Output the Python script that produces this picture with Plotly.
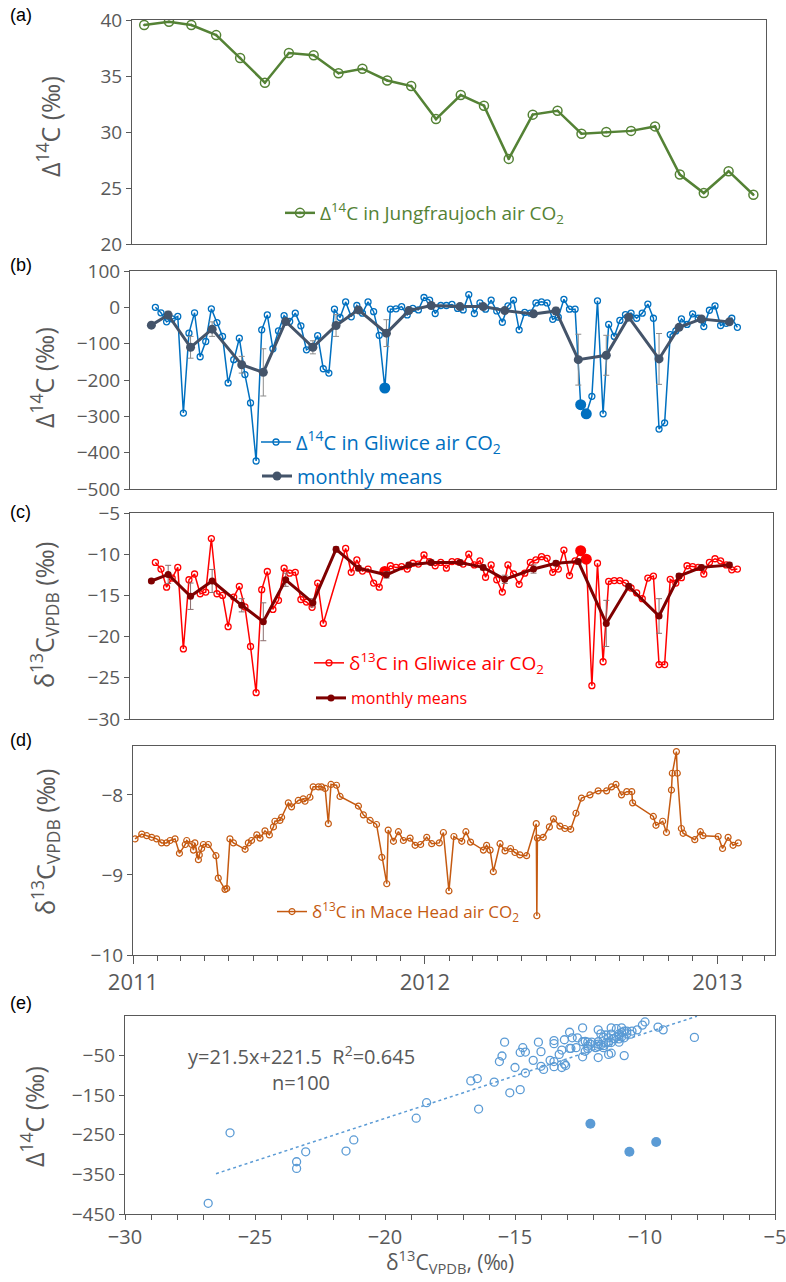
import plotly.graph_objects as go
import pandas as pd

W, H = 786, 1282
GRAY = "#595959"
FONT = "Open Sans"
GREEN = "#548235"
BLUE = "#0070C0"
NAVY = "#44546A"
RED = "#FF0000"
DARKRED = "#7F0000"
BROWN = "#C55A11"
LBLUE = "#5B9BD5"

# ---------------- (a) Jungfraujoch monthly D14C ----------------
jfj_dates = ["2011-01-15", "2011-02-15", "2011-03-15", "2011-04-15", "2011-05-15", "2011-06-15",
             "2011-07-15", "2011-08-15", "2011-09-15", "2011-10-15", "2011-11-15", "2011-12-15",
             "2012-01-15", "2012-02-15", "2012-03-15", "2012-04-15", "2012-05-15", "2012-06-15",
             "2012-07-15", "2012-08-15", "2012-09-15", "2012-10-15", "2012-11-15", "2012-12-15",
             "2013-01-15", "2013-02-15"]
jfj_d14c = [39.55, 39.85, 39.55, 38.65, 36.6, 34.4, 37.05, 36.85, 35.25, 35.65, 34.6, 34.1,
            31.15, 33.3, 32.35, 27.6, 31.55, 31.9, 29.85, 30.0, 30.1, 30.5, 26.2, 24.55, 26.5, 24.4]

# ---------------- (b),(c) Gliwice weekly samples ----------------
gl_dates = [
    "2011-01-29", "2011-02-05", "2011-02-12", "2011-02-19", "2011-02-26", "2011-03-05", "2011-03-12",
    "2011-03-19", "2011-03-26", "2011-04-02", "2011-04-09", "2011-04-16", "2011-04-23", "2011-04-30",
    "2011-05-07", "2011-05-14", "2011-05-21", "2011-05-28", "2011-06-04", "2011-06-11", "2011-06-18",
    "2011-06-25", "2011-07-02", "2011-07-09", "2011-07-16", "2011-07-23", "2011-07-30", "2011-08-06",
    "2011-08-13", "2011-08-20", "2011-08-27", "2011-09-03", "2011-09-10", "2011-09-17", "2011-09-24",
    "2011-10-01", "2011-10-08", "2011-10-15", "2011-10-22", "2011-10-29", "2011-11-05", "2011-11-12",
    "2011-11-19", "2011-11-26", "2011-12-03", "2011-12-10", "2011-12-17", "2011-12-24", "2011-12-31",
    "2012-01-07", "2012-01-14", "2012-01-21", "2012-01-28", "2012-02-04", "2012-02-11", "2012-02-18",
    "2012-02-25", "2012-03-03", "2012-03-10", "2012-03-17", "2012-03-24", "2012-03-31", "2012-04-07",
    "2012-04-14", "2012-04-21", "2012-04-28", "2012-05-05", "2012-05-12", "2012-05-19", "2012-05-26",
    "2012-06-02", "2012-06-09", "2012-06-16", "2012-06-23", "2012-06-30", "2012-07-07", "2012-07-14",
    "2012-07-21", "2012-07-28", "2012-08-04", "2012-08-11", "2012-08-18", "2012-08-25", "2012-09-01",
    "2012-09-08", "2012-09-15", "2012-09-22", "2012-09-29", "2012-10-06", "2012-10-13", "2012-10-20",
    "2012-10-27", "2012-11-03", "2012-11-10", "2012-11-17", "2012-11-24", "2012-12-01", "2012-12-08",
    "2012-12-15", "2012-12-22", "2012-12-29", "2013-01-05", "2013-01-12", "2013-01-19", "2013-01-26"]
gl_d14c = [
    0, -15, -40, -32, -25, -291, -71, -15, -136, -94,
    -4, -42, -80, -208, -144, -85, -185, -263, -423, -62,
    -21, -114, -65, -23, -39, -16, -51, -117, -108, -78,
    -169, -181, -5, -28, 15, -26, 5, -16, 15, -12,
    -77, -222, -5, -4, 2, -21, -3, -7, 27, 20,
    -17, 5, 5, 8, -3, -7, 35, -17, 12, -5,
    20, -10, -41, 4, 20, -62, -14, -16, 12, 15,
    12, -33, -27, 22, -5, -5, -268, -293, -245, 18,
    -293, -47, -80, -36, -20, -16, -30, -16, 9, -30,
    -335, -318, -75, -65, -32, -47, -18, -30, -53, -8,
    4, -50, -44, -30, -55]
gl_d13c = [
    -11.0, -11.8, -14.0, -12.9, -11.6, -21.5, -13.1, -12.4, -14.8, -14.6,
    -8.1, -14.8, -15.0, -18.8, -15.2, -13.9, -16.4, -21.2, -26.8, -14.3,
    -12.1, -16.7, -15.6, -11.7, -12.3, -12.2, -15.5, -15.8, -16.45, -13.5,
    -18.4, None, None, None, -9.3, -12.2, -10.7, -12.05, -11.8, -13.5,
    -14.0, -12.1, -11.4, -11.6, -11.5, -11.8, -11.1, -11.2, -10.1, -10.9,
    -11.4, -11.0, -11.7, -10.9, -10.9, -11.2, -10.0, -11.3, -10.8, -12.8,
    -11.3, -13.1, -14.6, -11.3, -12.4, -13.65, -12.3, -11.0, -10.7, -10.3,
    -10.5, -12.2, -11.8, -9.5, -12.6, -10.8, -9.57, -10.6, -25.96, -11.1,
    -23.05, -13.3, -13.2, -13.2, -13.5, -14.1, -14.7, -15.4, -12.9, -12.65,
    -23.4, -23.4, -13.05, -13.5, -12.85, -11.4, -11.5, -11.6, -12.4, -11.0,
    -10.55, -10.8, -11.3, -11.9, -11.8]
highlight_idx = [41, 76, 77]   # samples drawn as filled dots

# monthly means
mm_dates = ["2011-01-24", "2011-02-14", "2011-03-14", "2011-04-10", "2011-05-17", "2011-06-13",
            "2011-07-11", "2011-08-14", "2011-09-12", "2011-10-10", "2011-11-14", "2011-12-12",
            "2012-01-09", "2012-02-14", "2012-03-14", "2012-04-10", "2012-05-16", "2012-06-13",
            "2012-07-11", "2012-08-15", "2012-09-12", "2012-10-20", "2012-11-14", "2012-12-12",
            "2013-01-16"]
mm_d14c = [-49, -21, -110, -60, -158, -179, -39, -110, -50, -7, -71, -9, 5, 2, 2, -9, -18, -10,
           -144, -132, -27, -142, -55, -32, -40]
mm_d14c_err = [5, 10, 30, 20, 23, 65, 5, 18, 30, 5, 37, 5, 5, 5, 5, 5, 5, 10, 70, 55, 5, 70, 5, 5, 5]
mm_d13c = [-13.25, -12.45, -15.1, -13.25, -16.2, -18.2, -13.1, -15.9, -9.4, -11.7, -12.5, -11.3,
           -11.0, -11.0, -11.6, -13.05, -11.8, -11.1, -10.9, -18.4, -13.9, -17.5, -12.65, -11.6, -11.3]
mm_d13c_err = [0.2, 1.1, 1.6, 1.4, 0.8, 2.3, 0.8, 0.5, 0.3, 0.3, 0.4, 0.3, 0.3, 0.3, 0.3, 0.5,
               0.5, 0.3, 0.3, 2.8, 0.3, 2.1, 0.3, 0.3, 0.3]

# ---------------- (d) Mace Head d13C (time in decimal years) ----------------
mh_year = [2011.007, 2011.030, 2011.047, 2011.064, 2011.081, 2011.098, 2011.115, 2011.127, 2011.144,
           2011.159, 2011.179, 2011.184, 2011.201, 2011.207, 2011.212, 2011.224, 2011.227, 2011.235,
           2011.241, 2011.258, 2011.284, 2011.292, 2011.315, 2011.321, 2011.332, 2011.344, 2011.384,
           2011.395, 2011.406, 2011.424, 2011.435, 2011.452, 2011.467, 2011.481, 2011.486, 2011.503,
           2011.509, 2011.532, 2011.543, 2011.566, 2011.583, 2011.589, 2011.606, 2011.617, 2011.635,
           2011.646, 2011.658, 2011.669, 2011.678, 2011.697, 2011.709, 2011.772, 2011.789, 2011.812,
           2011.834, 2011.852, 2011.869, 2011.874, 2011.892, 2011.909, 2011.926, 2011.949, 2011.966,
           2011.985, 2012.006, 2012.023, 2012.049, 2012.063, 2012.082, 2012.099, 2012.126, 2012.140,
           2012.156, 2012.200, 2012.211, 2012.223, 2012.234, 2012.257, 2012.274, 2012.293, 2012.308,
           2012.325, 2012.348, 2012.381, 2012.383, 2012.385, 2012.405, 2012.426, 2012.440, 2012.462,
           2012.479, 2012.499, 2012.517, 2012.536, 2012.565, 2012.593, 2012.622, 2012.639, 2012.654,
           2012.673, 2012.691, 2012.708, 2012.711, 2012.782, 2012.791, 2012.814, 2012.827, 2012.844,
           2012.847, 2012.861, 2012.864, 2012.878, 2012.884, 2012.924, 2012.943, 2012.952, 2013.004,
           2013.019, 2013.038, 2013.055, 2013.073]
mh_d13c = [-8.55, -8.49, -8.51, -8.53, -8.55, -8.60, -8.60, -8.57, -8.55, -8.73, -8.62, -8.57,
           -8.62, -8.69, -8.60, -8.81, -8.75, -8.67, -8.62, -8.62, -8.76, -9.04, -9.18, -9.17,
           -8.55, -8.60, -8.68, -8.60, -8.57, -8.50, -8.54, -8.45, -8.50, -8.40, -8.33, -8.32,
           -8.28, -8.10, -8.15, -8.07, -8.05, -8.08, -8.03, -7.90, -7.90, -7.90, -7.92, -8.36,
           -7.87, -7.88, -8.02, -8.14, -8.25, -8.32, -8.37, -8.78, -9.11, -8.44, -8.58, -8.46,
           -8.57, -8.54, -8.63, -8.62, -8.53, -8.61, -8.60, -8.47, -9.20, -8.52, -8.58, -8.46,
           -8.59, -8.69, -8.63, -8.69, -8.96, -8.61, -8.70, -8.67, -8.72, -8.75, -8.76, -8.36,
           -9.51, -8.54, -8.53, -8.40, -8.30, -8.39, -8.42, -8.43, -8.23, -8.04, -8.00, -7.95,
           -7.95, -7.90, -7.87, -8.00, -7.96, -7.96, -8.10, -8.27, -8.38, -8.33, -8.47, -7.94,
           -7.73, -7.46, -7.73, -8.42, -8.48, -8.56, -8.46, -8.51, -8.52, -8.67, -8.53, -8.63, -8.60]

# ---------------- (e) regression ----------------
fit_slope, fit_intercept = 21.5, 221.5
fit_x = [-26.5, -8.0]
fit_text = "y=21.5x+221.5  R<sup>2</sup>=0.645"
n_text = "n=100"

# ---------------- helpers ----------------
T0 = pd.Timestamp("2011-01-01")
DPX = 365.25 / 292.0  # days per pixel on the time axes


def xdom(l, r):
    return [l / W, r / W]


def ydom(t, b):
    return [1 - b / H, 1 - t / H]


def trange(l, r):
    a = T0 + pd.Timedelta(days=(l - 133) * DPX)
    b = T0 + pd.Timedelta(days=(r - 133) * DPX)
    return [a.strftime("%Y-%m-%d %H:%M"), b.strftime("%Y-%m-%d %H:%M")]


def dec_to_date(y):
    return (T0 + pd.Timedelta(days=(y - 2011) * 365.25)).strftime("%Y-%m-%d %H:%M")


mh_dates = [dec_to_date(v) for v in mh_year]

fig = go.Figure()

# (a)
fig.add_trace(go.Scatter(x=jfj_dates, y=jfj_d14c, mode="lines+markers", xaxis="x", yaxis="y",
                         line=dict(color=GREEN, width=2.5),
                         marker=dict(symbol="circle-open-dot", size=9, color=GREEN, line=dict(width=1.5)),
                         name="Δ<sup>14</sup>C in Jungfraujoch air CO<sub>2</sub>", legend="legend"))

# (b)
fig.add_trace(go.Scatter(x=gl_dates, y=gl_d14c, mode="lines+markers", xaxis="x2", yaxis="y2",
                         line=dict(color=BLUE, width=1.5),
                         marker=dict(symbol="circle-open", size=6, color=BLUE, line=dict(width=1.3)),
                         name="Δ<sup>14</sup>C in Gliwice air CO<sub>2</sub>", legend="legend2"))
fig.add_trace(go.Scatter(x=[gl_dates[i] for i in highlight_idx], y=[gl_d14c[i] for i in highlight_idx],
                         mode="markers", xaxis="x2", yaxis="y2", showlegend=False,
                         marker=dict(symbol="circle", size=11, color=BLUE)))
fig.add_trace(go.Scatter(x=mm_dates, y=mm_d14c, mode="lines+markers", xaxis="x2", yaxis="y2",
                         line=dict(color=NAVY, width=3), marker=dict(symbol="circle", size=9, color=NAVY),
                         error_y=dict(type="data", array=mm_d14c_err, color="#8C8C8C", thickness=1, width=3),
                         name="monthly means", legend="legend3"))

# (c)
fig.add_trace(go.Scatter(x=gl_dates, y=gl_d13c, mode="lines+markers", xaxis="x3", yaxis="y3",
                         connectgaps=True, line=dict(color=RED, width=1.5),
                         marker=dict(symbol="circle-open", size=6, color=RED, line=dict(width=1.3)),
                         name="δ<sup>13</sup>C in Gliwice air CO<sub>2</sub>", legend="legend4"))
fig.add_trace(go.Scatter(x=[gl_dates[i] for i in highlight_idx], y=[gl_d13c[i] for i in highlight_idx],
                         mode="markers", xaxis="x3", yaxis="y3", showlegend=False,
                         marker=dict(symbol="circle", size=11, color=RED)))
fig.add_trace(go.Scatter(x=mm_dates, y=mm_d13c, mode="lines+markers", xaxis="x3", yaxis="y3",
                         line=dict(color=DARKRED, width=3), marker=dict(symbol="circle", size=7, color=DARKRED),
                         error_y=dict(type="data", array=mm_d13c_err, color="#8C6E6E", thickness=1, width=3),
                         name="monthly means", legend="legend5"))

# (d)
fig.add_trace(go.Scatter(x=mh_dates, y=mh_d13c, mode="lines+markers", xaxis="x4", yaxis="y4",
                         line=dict(color=BROWN, width=1.5),
                         marker=dict(symbol="circle-open", size=6, color=BROWN, line=dict(width=1.2)),
                         name="δ<sup>13</sup>C in Mace Head air CO<sub>2</sub>", legend="legend6"))

# (e)
sc_x, sc_y, hl_x, hl_y = [], [], [], []
for i, (a, b) in enumerate(zip(gl_d13c, gl_d14c)):
    if a is None:
        continue
    if i in highlight_idx:
        hl_x.append(a)
        hl_y.append(b)
    else:
        sc_x.append(a)
        sc_y.append(b)
fig.add_trace(go.Scatter(x=fit_x, y=[fit_slope * v + fit_intercept for v in fit_x], mode="lines",
                         xaxis="x5", yaxis="y5", showlegend=False,
                         line=dict(color=LBLUE, width=1.5, dash="dot")))
fig.add_trace(go.Scatter(x=sc_x, y=sc_y, mode="markers", xaxis="x5", yaxis="y5", showlegend=False,
                         marker=dict(symbol="circle-open", size=8, color=LBLUE, line=dict(width=1.3))))
fig.add_trace(go.Scatter(x=hl_x, y=hl_y, mode="markers", xaxis="x5", yaxis="y5", showlegend=False,
                         marker=dict(symbol="circle", size=10, color=LBLUE)))

tickfont = dict(family=FONT, size=19, color=GRAY)
common_y = dict(ticks="outside", ticklen=5, tickcolor=GRAY, tickfont=tickfont, showline=True,
                mirror=True, linecolor=GRAY, linewidth=1, showgrid=False, zeroline=False,
                automargin=False)
common_x = dict(type="date", showticklabels=False, ticks="", showline=True, mirror=True,
                linecolor=GRAY, linewidth=1, showgrid=False, zeroline=False, automargin=False)

layout = dict(
    template="none",
    width=W, height=H, margin=dict(l=0, r=0, t=0, b=0, autoexpand=False),
    paper_bgcolor="white", plot_bgcolor="white",
    xaxis=dict(domain=xdom(132, 766), range=trange(132, 766), anchor="y", **common_x),
    yaxis=dict(domain=ydom(20, 244), range=[20, 40], dtick=5, anchor="x", **common_y),
    xaxis2=dict(domain=xdom(130, 776), range=trange(130, 776), anchor="y2", **common_x),
    yaxis2=dict(domain=ydom(271, 489), range=[-500, 100], dtick=100, anchor="x2", **common_y),
    xaxis3=dict(domain=xdom(130, 773), range=trange(130, 773), anchor="y3", **common_x),
    yaxis3=dict(domain=ydom(513, 719), range=[-30, -5], dtick=5, anchor="x3", **common_y),
    xaxis4=dict(domain=xdom(133, 775), range=trange(133, 775), anchor="y4", type="date",
                showticklabels=True, tickformat="%Y", dtick="M12", tick0="2011-01-01",
                ticks="outside", ticklen=8, tickcolor=GRAY, tickfont=dict(family=FONT, size=22, color=GRAY),
                minor=dict(dtick="M1", ticks="outside", ticklen=5, tickcolor=GRAY),
                showline=True, mirror=True, linecolor=GRAY, linewidth=1, showgrid=False, zeroline=False,
                automargin=False, ticklabeloverflow="allow"),
    yaxis4=dict(domain=ydom(746, 955), range=[-10, -7.39], tickvals=[-10, -9, -8], anchor="x4", **common_y),
    xaxis5=dict(domain=xdom(125, 775), range=[-30, -5], tickvals=[-30, -25, -20, -15, -10, -5],
                anchor="y5", ticks="outside", ticklen=5,
                tickcolor=GRAY, tickfont=dict(family=FONT, size=20, color=GRAY),
                minor=dict(dtick=1, ticks="outside", ticklen=5, tickcolor=GRAY),
                showline=True, mirror=True, linecolor=GRAY, linewidth=1, showgrid=False, zeroline=False,
                automargin=False, ticklabeloverflow="allow"),
    yaxis5=dict(domain=ydom(1016, 1214), range=[-450, 50], tickvals=[-450, -350, -250, -150, -50],
                anchor="x5", **common_y),
    showlegend=True,
)


def leg(left, ymid, color, size):
    return dict(x=left / W, y=1 - ymid / H, xanchor="left", yanchor="middle", bgcolor="rgba(0,0,0,0)",
                itemwidth=30, font=dict(family=FONT, size=size, color=color), borderwidth=0)


layout["legend"] = leg(280, 213, GREEN, 19)
layout["legend2"] = leg(256, 442, BLUE, 20)
layout["legend3"] = leg(257, 476, BLUE, 20)
layout["legend4"] = leg(309, 663, RED, 19)
layout["legend5"] = leg(311, 698, RED, 16)
layout["legend6"] = leg(272, 912, BROWN, 17)
fig.update_layout(**layout)

ann = []
titlefont = dict(family=FONT, size=25, color=GRAY)
for txt, xc, yc in [("Δ<sup>14</sup>C (‰)", 48, 127), ("Δ<sup>14</sup>C (‰)", 42, 378),
                    ("δ<sup>13</sup>C<sub>VPDB</sub> (‰)", 44, 615),
                    ("δ<sup>13</sup>C<sub>VPDB</sub> (‰)", 45, 842), ("Δ<sup>14</sup>C (‰)", 32, 1117)]:
    ann.append(dict(text=txt, x=xc / W, y=1 - yc / H, xref="paper", yref="paper", showarrow=False,
                    textangle=-90, font=titlefont, xanchor="center", yanchor="middle"))
ann.append(dict(text="δ<sup>13</sup>C<sub>VPDB</sub>, (‰)", x=450 / W, y=1 - 1261 / H, xref="paper",
                yref="paper", showarrow=False, font=dict(family=FONT, size=21, color=GRAY),
                xanchor="center", yanchor="middle"))
ann.append(dict(text=fit_text, x=301 / W, y=1 - 1055 / H, xref="paper", yref="paper", showarrow=False,
                font=dict(family=FONT, size=20, color=GRAY), xanchor="center", yanchor="middle"))
ann.append(dict(text=n_text, x=301 / W, y=1 - 1082 / H, xref="paper", yref="paper", showarrow=False,
                font=dict(family=FONT, size=20, color=GRAY), xanchor="center", yanchor="middle"))
for lab, yc in [("(a)", 15), ("(b)", 265), ("(c)", 512), ("(d)", 740), ("(e)", 1003)]:
    ann.append(dict(text=lab, x=8 / W, y=1 - yc / H, xref="paper", yref="paper", showarrow=False,
                    font=dict(family="Liberation Sans", size=18, color="black"),
                    xanchor="left", yanchor="middle"))
fig.update_layout(annotations=ann)

fig.write_html("out.html", config={"displayModeBar": False},
               post_script="document.body.style.margin='0';document.body.style.overflow='hidden';")
